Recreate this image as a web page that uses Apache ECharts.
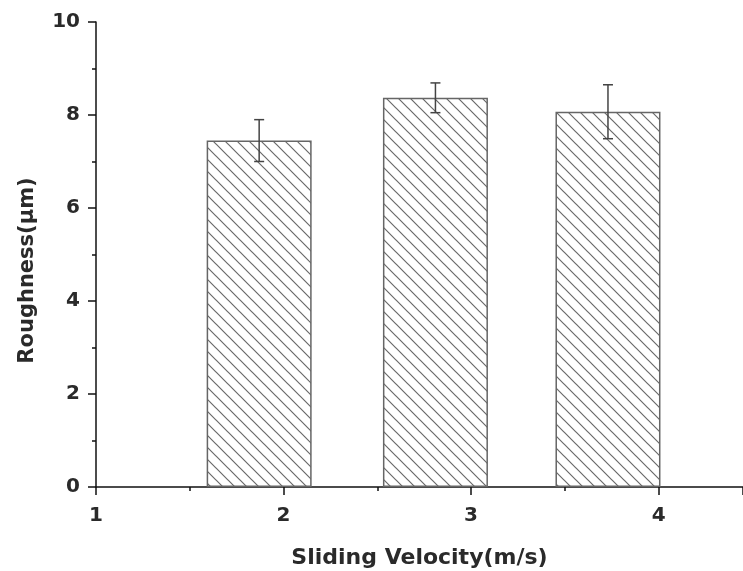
<!DOCTYPE html>
<html>
<head>
<meta charset="utf-8">
<script src="https://cdn.jsdelivr.net/npm/echarts@6/dist/echarts.min.js"></script>
<style>html,body{margin:0;padding:0;background:#fff}#c{width:743px;height:571px}</style>
</head>
<body>
<div id="c"></div>
<script>
var velocities = [1.87, 2.81, 3.73];
var roughness = [7.45, 8.37, 8.07];
var errors = [0.45, 0.32, 0.58];
var xTicks = [1, 2, 3, 4];
var yTicks = [0, 2, 4, 6, 8, 10];

function hatch() {
  var s = 12;
  var c = document.createElement('canvas');
  c.width = s; c.height = s;
  var g = c.getContext('2d');
  g.fillStyle = '#fff'; g.fillRect(0, 0, s, s);
  g.strokeStyle = '#6a6a6a'; g.lineWidth = 1.2;
  g.beginPath();
  g.moveTo(-1, -1); g.lineTo(s + 1, s + 1);
  g.moveTo(-s / 2 - 1, s / 2 - 1); g.lineTo(s / 2 + 1, 1.5 * s + 1);
  g.moveTo(s / 2 - 1, -s / 2 - 1); g.lineTo(1.5 * s + 1, s / 2 + 1);
  g.moveTo(-s - 1, -1); g.lineTo(1, s + 1);
  g.moveTo(s - 1, -1); g.lineTo(2 * s + 1, s + 1);
  g.stroke();
  return c;
}

var barData = velocities.map(function (v, i) { return [v, roughness[i]]; });
var errData = velocities.map(function (v, i) { return [v, roughness[i] - errors[i], roughness[i] + errors[i]]; });
var font = 'DejaVu Sans';

var chart = echarts.init(document.getElementById('c'));
chart.setOption({
  animation: false,
  grid: { left: 96, right: 0, top: 22, bottom: 84, outerBoundsMode: 'none', containLabel: false },
  xAxis: {
    type: 'value', min: 1, max: 4.45, interval: 1,
    name: 'Sliding Velocity(m/s)', nameLocation: 'middle', nameGap: 60,
    nameTextStyle: { fontFamily: font, fontWeight: 'bold', fontSize: 22, color: '#2a2a2a' },
    axisLine: { show: true, lineStyle: { color: '#111', width: 1.5 } },
    axisTick: { show: true, inside: false, length: 8, lineStyle: { color: '#111', width: 1.5 } },
    minorTick: { show: true, splitNumber: 2, length: 4, lineStyle: { color: '#111', width: 1.5 } },
    axisLabel: { margin: 19, fontFamily: font, fontWeight: 'bold', fontSize: 20, color: '#2a2a2a',
      formatter: function (v) { return xTicks.indexOf(v) >= 0 ? String(v) : ''; } },
    splitLine: { show: false }
  },
  yAxis: {
    type: 'value', min: 0, max: 10, interval: 2,
    name: 'Roughness(μm)', nameLocation: 'middle', nameGap: 58,
    nameTextStyle: { fontFamily: font, fontWeight: 'bold', fontSize: 21, color: '#2a2a2a', padding: [0, 32, 0, 0] },
    axisLine: { show: true, lineStyle: { color: '#111', width: 1.5 } },
    axisTick: { show: true, inside: false, length: 8, lineStyle: { color: '#111', width: 1.5 } },
    minorTick: { show: true, splitNumber: 2, length: 4, lineStyle: { color: '#111', width: 1.5 } },
    axisLabel: { margin: 16, fontFamily: font, fontWeight: 'bold', fontSize: 20, color: '#2a2a2a',
      formatter: function (v) { return yTicks.indexOf(v) >= 0 ? String(v) : ''; } },
    splitLine: { show: false }
  },
  series: [
    {
      type: 'bar', data: barData, barWidth: 105,
      itemStyle: { color: { image: hatch(), repeat: 'repeat' }, borderColor: '#666', borderWidth: 1.5 }
    },
    {
      type: 'custom', data: errData, z: 5,
      renderItem: function (params, api) {
        var x = api.value(0);
        var lo = api.coord([x, api.value(1)]);
        var hi = api.coord([x, api.value(2)]);
        var cap = 5;
        var st = { stroke: '#444', lineWidth: 1.5 };
        return { type: 'group', children: [
          { type: 'line', shape: { x1: lo[0], y1: lo[1], x2: hi[0], y2: hi[1] }, style: st },
          { type: 'line', shape: { x1: hi[0] - cap, y1: hi[1], x2: hi[0] + cap, y2: hi[1] }, style: st },
          { type: 'line', shape: { x1: lo[0] - cap, y1: lo[1], x2: lo[0] + cap, y2: lo[1] }, style: st }
        ] };
      }
    }
  ]
});
</script>
</body>
</html>
